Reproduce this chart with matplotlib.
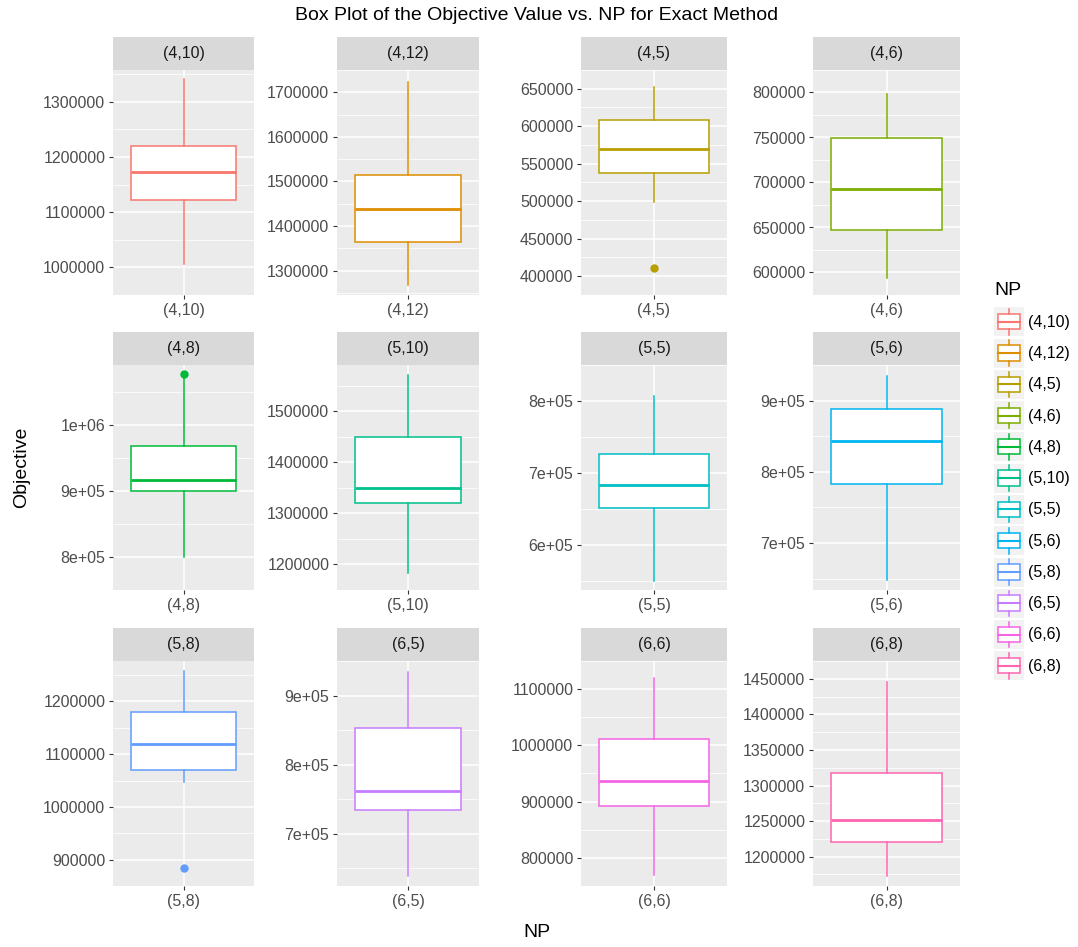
import matplotlib
matplotlib.use("Agg")
import matplotlib.pyplot as plt
from matplotlib.patches import Rectangle, Patch
from matplotlib.lines import Line2D
from matplotlib.legend_handler import HandlerBase

plt.rcParams['font.family'] = ['Liberation Sans', 'DejaVu Sans']

# data (box stats per NP group)
np_labels = ["(4,10)", "(4,12)", "(4,5)", "(4,6)", "(4,8)", "(5,10)",
             "(5,5)", "(5,6)", "(5,8)", "(6,5)", "(6,6)", "(6,8)"]
whis_lo = [1005600, 1268200, 499200, 593700, 799600, 1184200,
           550300, 648400, 1048100, 638700, 768800, 1172400]
q1 = [1123000, 1364400, 537000, 647700, 900000, 1319600,
      651300, 783000, 1070000, 734700, 893100, 1220500]
median = [1173700, 1437800, 570000, 693000, 917300, 1350300,
          683500, 842800, 1120100, 761200, 935800, 1251300]
q3 = [1219200, 1514900, 607800, 749700, 969100, 1448600,
      725900, 888200, 1179900, 852600, 1011600, 1317400]
whis_hi = [1341000, 1722200, 652700, 798000, 1072000, 1571000,
           807600, 935100, 1258000, 934400, 1119400, 1445100]
outliers = [[], [], [411400], [], [1077500], [],
            [], [], [883500], [], [], []]

yticks = [
    [1000000, 1100000, 1200000, 1300000],
    [1300000, 1400000, 1500000, 1600000, 1700000],
    [400000, 450000, 500000, 550000, 600000, 650000],
    [600000, 650000, 700000, 750000, 800000],
    [800000, 900000, 1000000],
    [1200000, 1300000, 1400000, 1500000],
    [600000, 700000, 800000],
    [700000, 800000, 900000],
    [900000, 1000000, 1100000, 1200000],
    [700000, 800000, 900000],
    [800000, 900000, 1000000, 1100000],
    [1200000, 1250000, 1300000, 1350000, 1400000, 1450000],
]
sci_labels = [False, False, False, False, True, False,
              True, True, False, True, False, False]

colors = ["#F8766D", "#DE8C00", "#B79F00", "#7CAE00", "#00BA38", "#00C08B",
          "#00BFC4", "#00B4F0", "#619CFF", "#C77CFF", "#F564E3", "#FF64B0"]

W, H = 1078, 947
fig = plt.figure(figsize=(W / 100, H / 100), dpi=100)

col_left = [113, 337, 581, 813]
col_right = [254, 479, 727, 960]
strip_top = [37, 332, 628]
strip_h = 33
panel_h = 225


def fmt(v, sci):
    if sci:
        return "{:.0e}".format(v)
    return str(int(v))


for i, name in enumerate(np_labels):
    r, c = divmod(i, 4)
    l, rr, top = col_left[c], col_right[c], strip_top[r]
    ax = fig.add_axes([l / W, 1 - (top + strip_h + panel_h) / H,
                       (rr - l) / W, panel_h / H])
    st = fig.add_axes([l / W, 1 - (top + strip_h) / H,
                       (rr - l) / W, strip_h / H])

    col = colors[i]
    stats = dict(med=median[i], q1=q1[i], q3=q3[i],
                 whislo=whis_lo[i], whishi=whis_hi[i],
                 fliers=outliers[i], label=name)
    ax.bxp([stats], positions=[1], widths=0.9, patch_artist=True,
           showcaps=False,
           boxprops=dict(facecolor="white", edgecolor=col, linewidth=1.1),
           medianprops=dict(color=col, linewidth=2.0),
           whiskerprops=dict(color=col, linewidth=1.1),
           flierprops=dict(marker="o", markerfacecolor=col,
                           markeredgecolor=col, markersize=5))

    lo = min([whis_lo[i]] + outliers[i])
    hi = max([whis_hi[i]] + outliers[i])
    pad = 0.05 * (hi - lo)
    ax.set_ylim(lo - pad, hi + pad)
    ax.set_xlim(0.4, 1.6)

    tk = yticks[i]
    ax.set_yticks(tk, [fmt(v, sci_labels[i]) for v in tk])
    step = tk[1] - tk[0]
    minors = [tk[0] - step / 2] + [v + step / 2 for v in tk]
    ax.set_yticks(minors, minor=True)
    ax.set_xticks([1], [name])

    ax.set_facecolor("#EBEBEB")
    ax.set_axisbelow(True)
    ax.grid(True, which="major", color="white", linewidth=1.1)
    ax.grid(True, which="minor", axis="y", color="white", linewidth=0.55)
    for s in ax.spines.values():
        s.set_visible(False)
    ax.tick_params(which="major", length=3, width=0.8, color="#333333",
                   labelcolor="#4D4D4D", labelsize=11.5, pad=2.5)
    ax.tick_params(which="minor", length=0)

    st.set_facecolor("#D9D9D9")
    st.set_xticks([])
    st.set_yticks([])
    for s in st.spines.values():
        s.set_visible(False)
    st.text(0.5, 0.5, name, ha="center", va="center", fontsize=11.5,
            color="#1A1A1A", transform=st.transAxes)

fig.text(536.5 / W, 1 - 16 / H,
         "Box Plot of the Objective Value vs. NP for Exact Method",
         ha="center", va="center", fontsize=14)
fig.text(536.5 / W, 1 - 932 / H, "NP", ha="center", va="center", fontsize=14)
fig.text(22 / W, 1 - 467 / H, "Objective", ha="center", va="center",
         rotation=90, fontsize=14)


class BoxKey(HandlerBase):
    def create_artists(self, legend, orig_handle, xdescent, ydescent,
                       width, height, fontsize, trans):
        col = orig_handle.get_edgecolor()
        x0, y0 = -xdescent, -ydescent
        bg = Rectangle((x0, y0), width, height, facecolor="#F2F2F2",
                       edgecolor="none", transform=trans)
        bx = Rectangle((x0 + width * 0.12, y0 + height * 0.24),
                       width * 0.76, height * 0.53, facecolor="white",
                       edgecolor=col, linewidth=1.1, transform=trans)
        xm = x0 + width / 2
        wl = Line2D([xm, xm], [y0 + height * 0.06, y0 + height * 0.24],
                    color=col, linewidth=1.1, transform=trans)
        wh = Line2D([xm, xm], [y0 + height * 0.77, y0 + height * 0.94],
                    color=col, linewidth=1.1, transform=trans)
        md = Line2D([x0 + width * 0.12, x0 + width * 0.88],
                    [y0 + height * 0.5, y0 + height * 0.5],
                    color=col, linewidth=1.5, transform=trans)
        return [bg, bx, wl, wh, md]


handles = [Patch(facecolor="white", edgecolor=c) for c in colors]
leg = fig.legend(handles, np_labels, handler_map={Patch: BoxKey()},
                 loc="upper left", bbox_to_anchor=(986 / W, 1 - 274 / H),
                 frameon=False, borderpad=0, fontsize=11.5,
                 title="NP", title_fontsize=14, alignment="left",
                 handlelength=1.85, handleheight=2.42, labelspacing=0.14,
                 handletextpad=0.3)
leg._legend_box.sep = 6

fig.savefig("out.png", dpi=100)
